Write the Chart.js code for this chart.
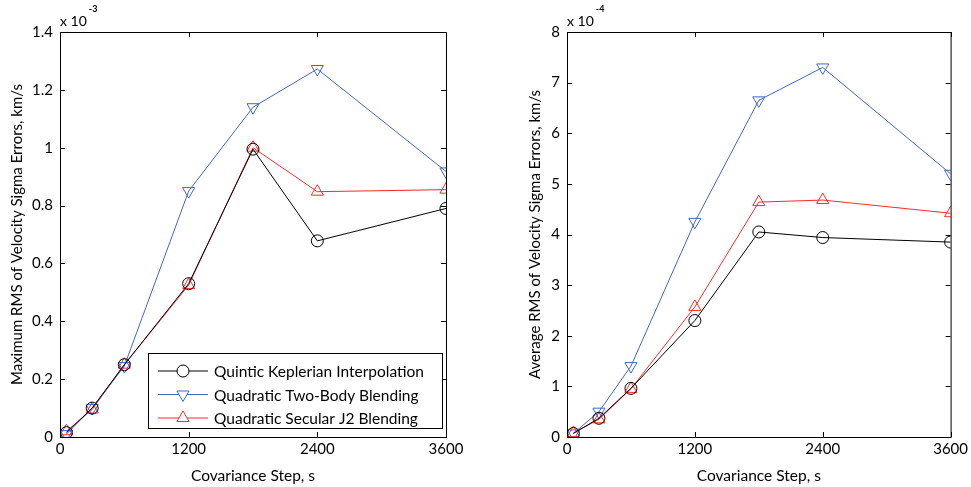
<!DOCTYPE html>
<html>
<head>
<meta charset="utf-8">
<script src="https://cdn.jsdelivr.net/npm/chart.js@4/dist/chart.umd.min.js"></script>
<style>
  html, body { margin: 0; padding: 0; background: #fff; }
  #wrap { position: relative; width: 971px; height: 487px; }
  .panel { position: absolute; top: 0; width: 485px; height: 487px; }
</style>
</head>
<body>
<div id="wrap">
  <div class="panel" style="left:0"><canvas id="maxChart"></canvas></div>
  <div class="panel" style="left:486px"><canvas id="avgChart"></canvas></div>
</div>

<script>
// covariance step, s
const steps = [60, 300, 600, 1200, 1800, 2400, 3600]
const xTicks = [0, 1200, 2400, 3600]

// max RMS, units of 1e-3 km/s
const maxQuintic = [0.015, 0.100, 0.250, 0.530, 0.995, 0.678, 0.790]
const maxTwoBody = [0.010, 0.100, 0.245, 0.850, 1.140, 1.272, 0.918]
const maxSecular = [0.020, 0.095, 0.250, 0.525, 1.000, 0.848, 0.855]

// average RMS, units of 1e-4 km/s
const avgQuintic = [0.07, 0.37, 0.96, 2.30, 4.05, 3.94, 3.85]
const avgTwoBody = [0.07, 0.50, 1.40, 4.25, 6.65, 7.30, 5.20]
const avgSecular = [0.08, 0.35, 0.95, 2.57, 4.64, 4.68, 4.42]

const seriesNames = ["Quintic Keplerian Interpolation", "Quadratic Two-Body Blending", "Quadratic Secular J2 Blending"]

const FONT = "Lato, 'Open Sans', sans-serif"
const BLUE = "#4466c4"
const RED = "#ff2a2a"

const makeDatasets = (a, b, c) => [
    { label: seriesNames[0], data: steps.map((s, i) => ({ x: s, y: a[i] })), borderColor: "#000", pointStyle: "circle", pointRadius: 6, pointRotation: 0 },
    { label: seriesNames[1], data: steps.map((s, i) => ({ x: s, y: b[i] })), borderColor: BLUE, pointStyle: "triangle", pointRadius: 7, pointRotation: 180 },
    { label: seriesNames[2], data: steps.map((s, i) => ({ x: s, y: c[i] })), borderColor: RED, pointStyle: "triangle", pointRadius: 7, pointRotation: 0 },
].map(d => Object.assign(d, {
    borderWidth: 1,
    pointBorderColor: d.borderColor,
    pointBackgroundColor: "rgba(0,0,0,0)",
    pointBorderWidth: 1,
    showLine: true,
    tension: 0
}))

// box, inward ticks, exponent and optional legend
const framePlugin = {
    id: "frame",
    afterDraw(chart, args, opts) {
        const { ctx, chartArea: a, scales } = chart
        ctx.save()
        ctx.strokeStyle = "#000"
        ctx.lineWidth = 1
        ctx.strokeRect(a.left + 0.5, a.top + 0.5, a.right - a.left, a.bottom - a.top)
        ctx.beginPath()
        for (const t of scales.x.ticks) {
            const px = Math.round(scales.x.getPixelForValue(t.value)) + 0.5
            ctx.moveTo(px, a.bottom); ctx.lineTo(px, a.bottom - 5)
            ctx.moveTo(px, a.top); ctx.lineTo(px, a.top + 5)
        }
        for (const t of scales.y.ticks) {
            const py = Math.round(scales.y.getPixelForValue(t.value)) + 0.5
            ctx.moveTo(a.left, py); ctx.lineTo(a.left + 5, py)
            ctx.moveTo(a.right, py); ctx.lineTo(a.right - 5, py)
        }
        ctx.stroke()

        // exponent
        ctx.fillStyle = "#000"
        ctx.textBaseline = "alphabetic"
        ctx.textAlign = "left"
        ctx.font = "14px " + FONT
        ctx.fillText("x 10", a.left, a.top - 6)
        const w = ctx.measureText("x 10").width
        ctx.font = "bold 9px " + FONT
        ctx.fillText(opts.exponent, a.left + w + 2, a.top - 20)

        if (opts.legend) {
            const lx = a.left + 88, ly = a.top + 321, lw = 294, lh = 75
            ctx.fillStyle = "#fff"
            ctx.fillRect(lx, ly, lw, lh)
            ctx.strokeRect(lx + 0.5, ly + 0.5, lw, lh)
            chart.data.datasets.forEach((d, i) => {
                const y = ly + 18 + i * 23.5
                ctx.strokeStyle = d.borderColor
                ctx.beginPath()
                ctx.moveTo(lx + 10, y); ctx.lineTo(lx + 60, y)
                ctx.stroke()
                ctx.fillStyle = "#fff"
                Chart.helpers.drawPoint(ctx, {
                    pointStyle: d.pointStyle, radius: d.pointRadius, rotation: d.pointRotation, borderWidth: 1
                }, lx + 35, y)
                ctx.fillStyle = "#000"
                ctx.font = "15.5px " + FONT
                ctx.textBaseline = "middle"
                ctx.fillText(d.label, lx + 66, y + 1)
            })
        }
        ctx.restore()
    }
}

const makeChart = (canvas, datasets, cfg) => new Chart(canvas, {
    type: "scatter",
    data: { datasets },
    plugins: [framePlugin],
    options: {
        responsive: true,
        maintainAspectRatio: false,
        animation: false,
        layout: { padding: { top: 32, left: cfg.padLeft, right: cfg.padRight, bottom: 0 } },
        plugins: {
            legend: { display: false },
            tooltip: { enabled: false },
            frame: { exponent: cfg.exponent, legend: cfg.legend }
        },
        scales: {
            x: {
                type: "linear", min: 0, max: 3600,
                afterBuildTicks: s => { s.ticks = xTicks.map(v => ({ value: v })) },
                afterFit: s => { s.height = 50 },
                grid: { display: false, drawTicks: false },
                border: { display: false },
                ticks: { color: "#000", font: { family: FONT, size: 15 }, padding: 3, maxRotation: 0,
                    callback: v => String(v) },
                title: { display: true, text: "Covariance Step, s", color: "#000", font: { family: FONT, size: 15.5 }, padding: { bottom: 2 } }
            },
            y: {
                type: "linear", min: 0, max: cfg.yMax,
                ticks: { stepSize: cfg.yStep, color: "#000", font: { family: FONT, size: 15 }, padding: 7,
                    callback: v => String(+v.toFixed(1)) },
                afterFit: s => { s.width = cfg.yWidth },
                grid: { display: false, drawTicks: false },
                border: { display: false },
                title: { display: true, text: cfg.yTitle, color: "#000", font: { family: FONT, size: 15 }, padding: { top: 8 } }
            }
        }
    }
})

makeChart(maxChart, makeDatasets(maxQuintic, maxTwoBody, maxSecular), {
    yMax: 1.4, yStep: 0.2, exponent: "-3", legend: true,
    yTitle: "Maximum RMS of Velocity Sigma Errors, km/s",
    padLeft: 0, yWidth: 60, padRight: 39
})

makeChart(avgChart, makeDatasets(avgQuintic, avgTwoBody, avgSecular), {
    yMax: 8, yStep: 1, exponent: "-4", legend: false,
    yTitle: "Average RMS of Velocity Sigma Errors, km/s",
    padLeft: 32, yWidth: 49, padRight: 17
})
</script>
</body>
</html>
